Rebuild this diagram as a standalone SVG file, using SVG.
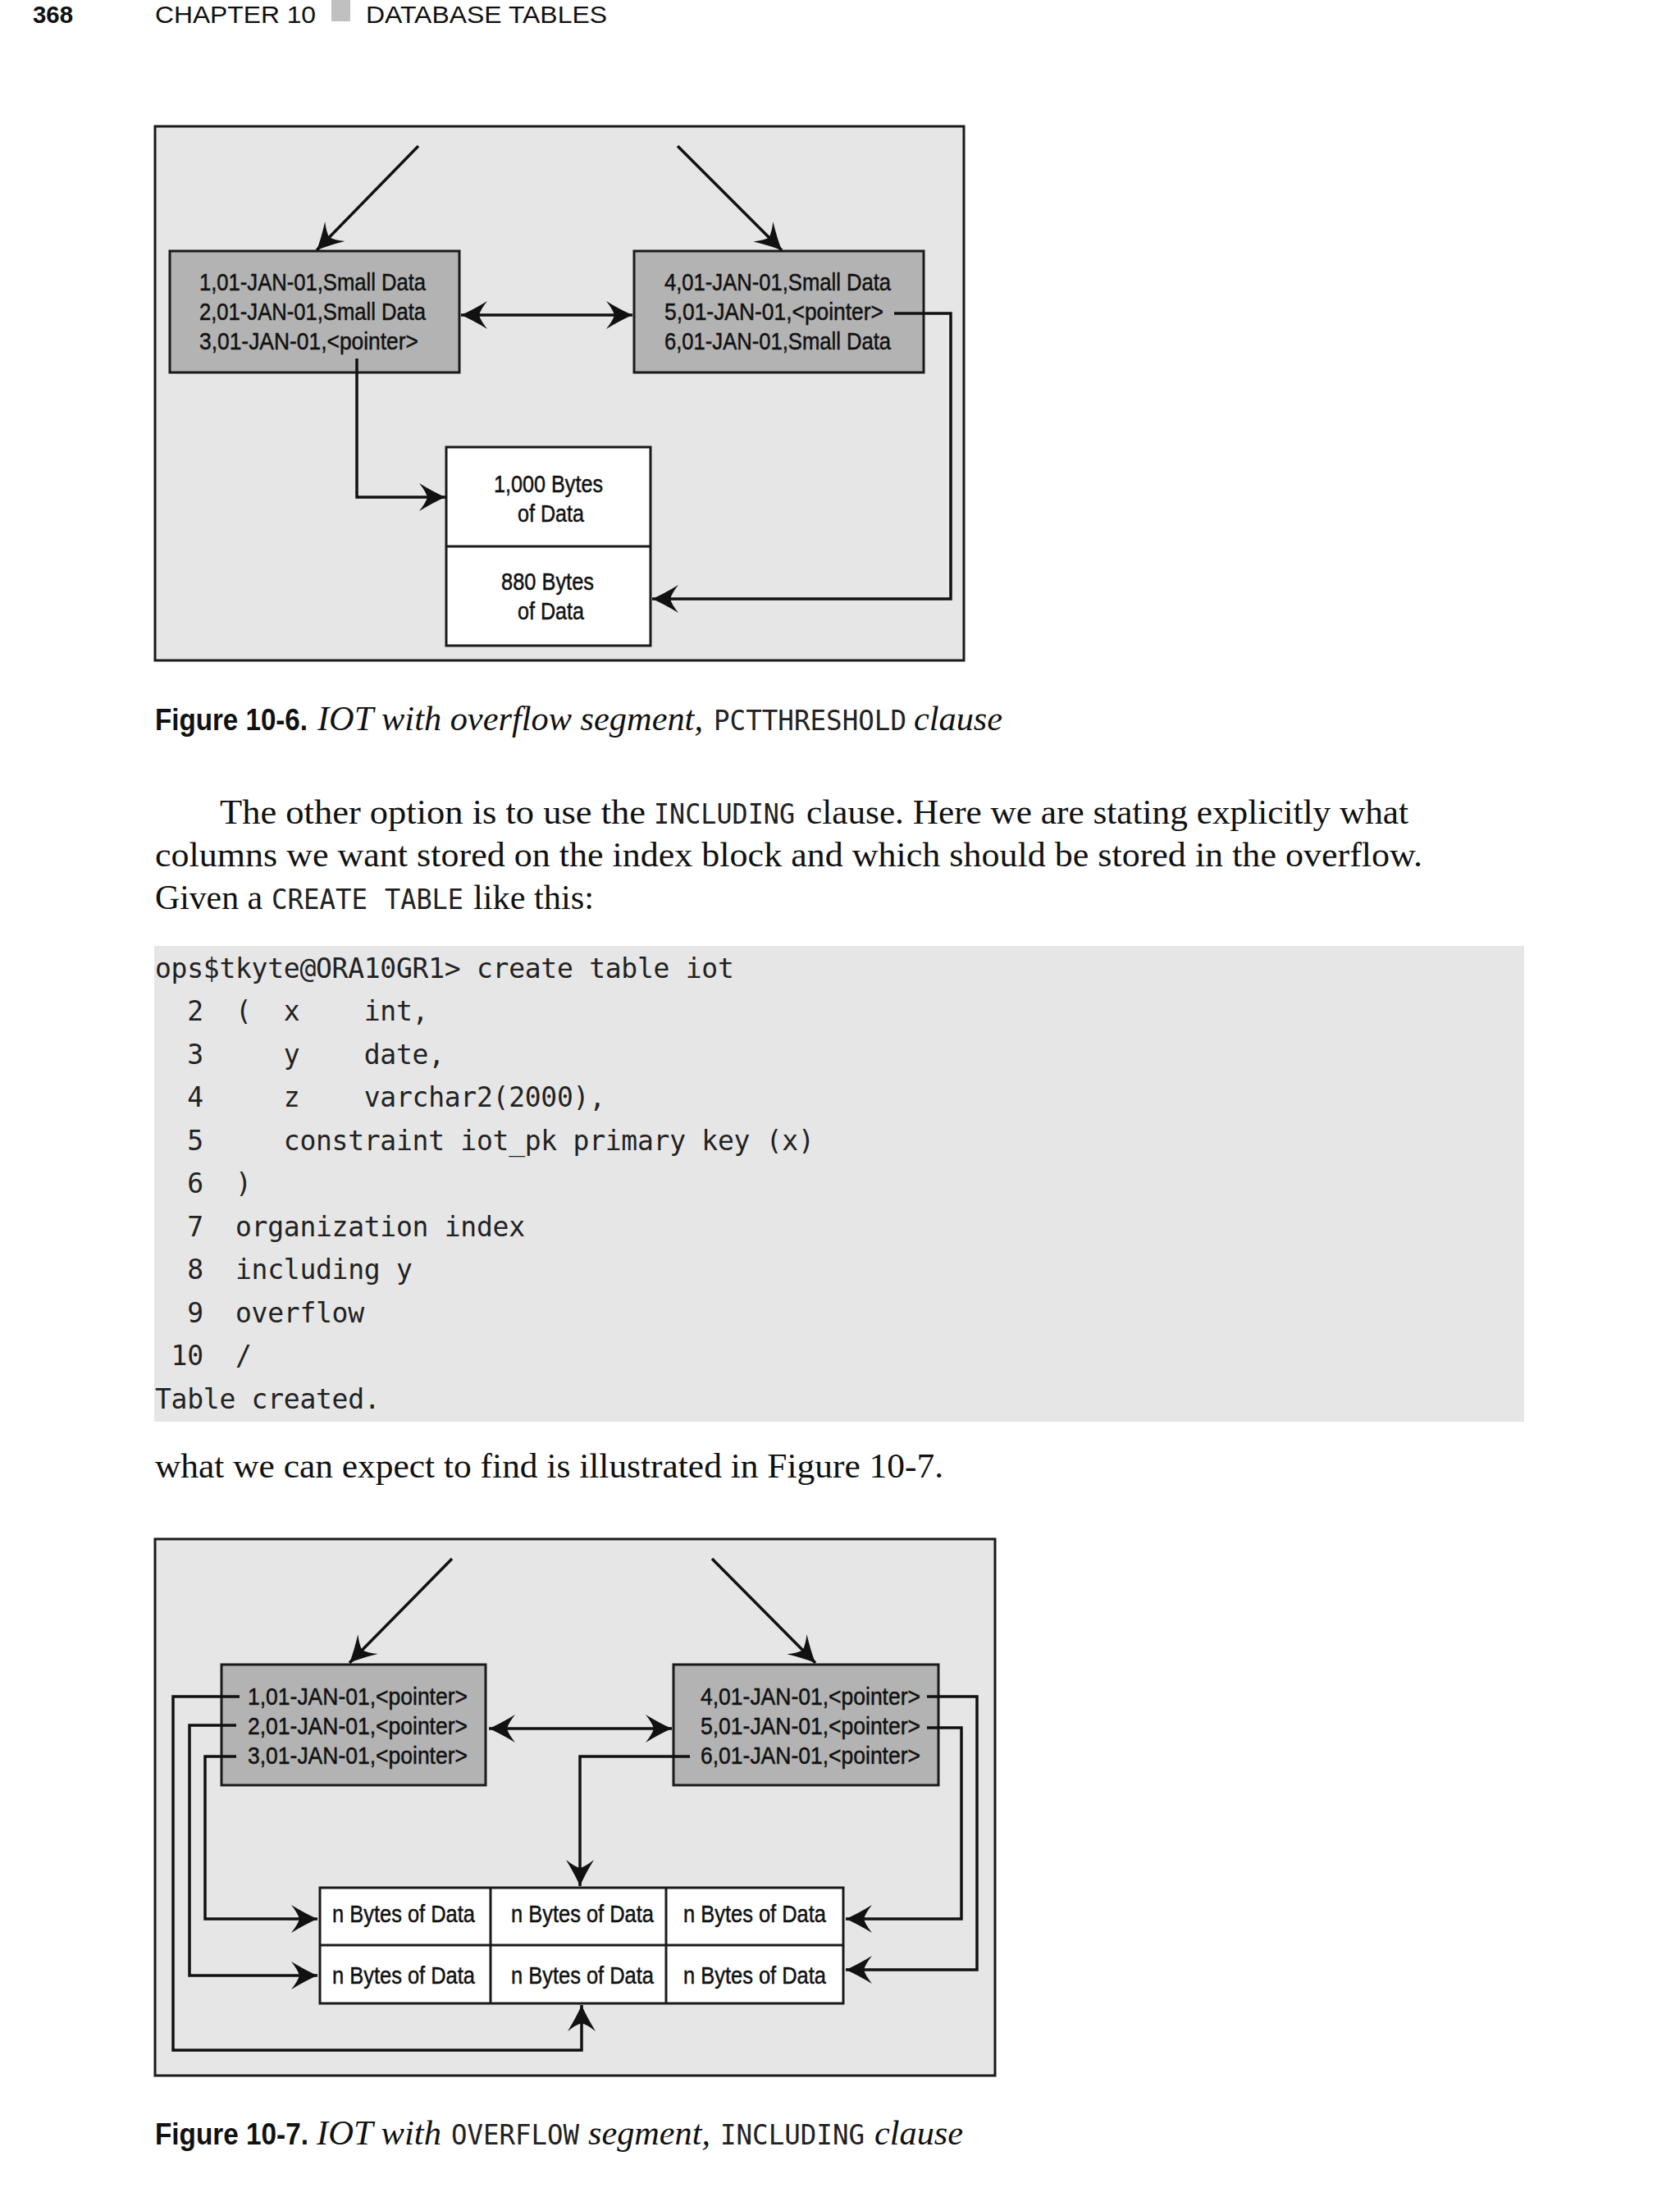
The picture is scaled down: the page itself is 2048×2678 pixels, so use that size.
<svg xmlns="http://www.w3.org/2000/svg" width="2048" height="2678" viewBox="0 0 2048 2678">
<style>
.hdr{font-family:"Liberation Sans",Arial,sans-serif;font-size:30px;fill:#111}
.hb{font-weight:bold}
.ft{font-family:"Liberation Sans",Arial,sans-serif;font-size:30px;fill:#111;stroke:#111;stroke-width:0.5}
.body{font-family:"Liberation Serif","Times New Roman",serif;font-size:42px;fill:#111}
.it{font-family:"Liberation Serif","Times New Roman",serif;font-size:42px;font-style:italic;fill:#111}
.mono{font-family:"DejaVu Sans Mono","Liberation Mono",monospace;font-size:33px;fill:#222}
.code{font-family:"DejaVu Sans Mono","Liberation Mono",monospace;font-size:33px;fill:#222;letter-spacing:-0.27px}
.capb{font-family:"Liberation Sans",Arial,sans-serif;font-size:37px;font-weight:bold;fill:#111}
.frame{fill:#e6e6e6;stroke:#1a1a1a;stroke-width:3}
.gbox{fill:#b3b3b3;stroke:#1a1a1a;stroke-width:3}
.wbox{fill:#ffffff;stroke:#1a1a1a;stroke-width:3}
.cn{fill:none;stroke:#111;stroke-width:3.5;stroke-linejoin:miter}
.ar{marker-end:url(#ah)}
.dar{marker-start:url(#ah);marker-end:url(#ah)}
</style>
<defs>
<marker id="ah" markerUnits="userSpaceOnUse" markerWidth="40" markerHeight="40" viewBox="-36 -20 40 40" refX="0" refY="0" orient="auto-start-reverse">
<path d="M0,0 Q-14,-6 -32,-17 Q-24,-7 -22,0 Q-24,7 -32,17 Q-14,6 0,0 Z" fill="#111"/>
</marker>
</defs>
<rect x="0" y="0" width="2048" height="2678" fill="#ffffff"/>

<g id="header">
<text class="hdr hb" x="40" y="28" textLength="49" lengthAdjust="spacingAndGlyphs">368</text>
<text class="hdr" x="189" y="28" textLength="196" lengthAdjust="spacingAndGlyphs">CHAPTER 10</text>
<rect x="404" y="0" width="23" height="26" fill="#c0c0c0"/>
<text class="hdr" x="446" y="28" textLength="294" lengthAdjust="spacingAndGlyphs">DATABASE TABLES</text>
</g>

<!-- Figure 10-6 -->
<g id="fig6-frame"><rect class="frame" x="189" y="154" width="986" height="651"/></g>
<g id="fig6-left-block">
<rect class="gbox" x="207" y="306" width="353" height="148"/>
<text class="ft" x="243" y="354" textLength="276" lengthAdjust="spacingAndGlyphs">1,01-JAN-01,Small Data</text>
<text class="ft" x="243" y="390" textLength="276" lengthAdjust="spacingAndGlyphs">2,01-JAN-01,Small Data</text>
<text class="ft" x="243" y="426" textLength="267" lengthAdjust="spacingAndGlyphs">3,01-JAN-01,&lt;pointer&gt;</text>
</g>
<g id="fig6-right-block">
<rect class="gbox" x="773" y="306" width="353" height="148"/>
<text class="ft" x="810" y="354" textLength="276" lengthAdjust="spacingAndGlyphs">4,01-JAN-01,Small Data</text>
<text class="ft" x="810" y="390" textLength="267" lengthAdjust="spacingAndGlyphs">5,01-JAN-01,&lt;pointer&gt;</text>
<text class="ft" x="810" y="426" textLength="276" lengthAdjust="spacingAndGlyphs">6,01-JAN-01,Small Data</text>
</g>
<g id="fig6-overflow">
<rect class="wbox" x="544" y="545" width="249" height="242"/>
<line x1="544" y1="666" x2="793" y2="666" stroke="#1a1a1a" stroke-width="3"/>
<text class="ft" x="602" y="600" textLength="133" lengthAdjust="spacingAndGlyphs">1,000 Bytes</text>
<text class="ft" x="631" y="636" textLength="81" lengthAdjust="spacingAndGlyphs">of Data</text>
<text class="ft" x="611" y="719" textLength="113" lengthAdjust="spacingAndGlyphs">880 Bytes</text>
<text class="ft" x="631" y="755" textLength="81" lengthAdjust="spacingAndGlyphs">of Data</text>
</g>
<g id="fig6-connectors">
<line class="cn ar" x1="510" y1="178" x2="386" y2="305"/>
<line class="cn ar" x1="826" y1="178" x2="953" y2="305"/>
<line class="cn dar" x1="562" y1="384" x2="771" y2="384"/>
<polyline class="cn ar" points="435,437 435,606 543,606"/>
<polyline class="cn ar" points="1090,382 1159,382 1159,730 795,730"/>
</g>

<g id="caption6">
<text class="capb" x="189" y="890" textLength="186" lengthAdjust="spacingAndGlyphs">Figure 10-6.</text>
<text class="it" x="387" y="890" textLength="470" lengthAdjust="spacingAndGlyphs">IOT with overflow segment,</text>
<text class="mono" x="870" y="890" textLength="235" lengthAdjust="spacingAndGlyphs">PCTTHRESHOLD</text>
<text class="it" x="1114" y="890" textLength="108" lengthAdjust="spacingAndGlyphs">clause</text>
</g>

<g id="paragraph">
<text class="body" x="268" y="1004" textLength="519" lengthAdjust="spacingAndGlyphs">The other option is to use the</text>
<text class="mono" x="797" y="1004" textLength="172" lengthAdjust="spacingAndGlyphs">INCLUDING</text>
<text class="body" x="983" y="1004" textLength="734" lengthAdjust="spacingAndGlyphs">clause. Here we are stating explicitly what</text>
<text class="body" x="189" y="1056" textLength="1545" lengthAdjust="spacingAndGlyphs">columns we want stored on the index block and which should be stored in the overflow.</text>
<text class="body" x="189" y="1108" textLength="131" lengthAdjust="spacingAndGlyphs">Given a</text>
<text class="mono" x="331" y="1108" textLength="117" lengthAdjust="spacingAndGlyphs">CREATE</text>
<text class="mono" x="469" y="1108" textLength="96" lengthAdjust="spacingAndGlyphs">TABLE</text>
<text class="body" x="577" y="1108" textLength="147" lengthAdjust="spacingAndGlyphs">like this:</text>
</g>

<g id="code">
<rect x="188" y="1153" width="1670" height="580" fill="#e6e6e6"/>
<text class="code" xml:space="preserve" x="189" y="1192">ops$tkyte@ORA10GR1&gt; create table iot</text>
<text class="code" xml:space="preserve" x="189" y="1244">  2  (  x    int,</text>
<text class="code" xml:space="preserve" x="189" y="1297">  3     y    date,</text>
<text class="code" xml:space="preserve" x="189" y="1349">  4     z    varchar2(2000),</text>
<text class="code" xml:space="preserve" x="189" y="1402">  5     constraint iot_pk primary key (x)</text>
<text class="code" xml:space="preserve" x="189" y="1454">  6  )</text>
<text class="code" xml:space="preserve" x="189" y="1507">  7  organization index</text>
<text class="code" xml:space="preserve" x="189" y="1559">  8  including y</text>
<text class="code" xml:space="preserve" x="189" y="1612">  9  overflow</text>
<text class="code" xml:space="preserve" x="189" y="1664"> 10  /</text>
<text class="code" xml:space="preserve" x="189" y="1717">Table created.</text>
</g>

<g id="para2">
<text class="body" x="189" y="1801" textLength="961" lengthAdjust="spacingAndGlyphs">what we can expect to find is illustrated in Figure 10-7.</text>
</g>

<!-- Figure 10-7 -->
<g id="fig7-frame"><rect class="frame" x="189" y="1876" width="1024" height="654"/></g>
<g id="fig7-left-block">
<rect class="gbox" x="270" y="2029" width="322" height="147"/>
<text class="ft" x="302" y="2078" textLength="268" lengthAdjust="spacingAndGlyphs">1,01-JAN-01,&lt;pointer&gt;</text>
<text class="ft" x="302" y="2114" textLength="268" lengthAdjust="spacingAndGlyphs">2,01-JAN-01,&lt;pointer&gt;</text>
<text class="ft" x="302" y="2150" textLength="268" lengthAdjust="spacingAndGlyphs">3,01-JAN-01,&lt;pointer&gt;</text>
</g>
<g id="fig7-right-block">
<rect class="gbox" x="821" y="2029" width="323" height="147"/>
<text class="ft" x="854" y="2078" textLength="268" lengthAdjust="spacingAndGlyphs">4,01-JAN-01,&lt;pointer&gt;</text>
<text class="ft" x="854" y="2114" textLength="268" lengthAdjust="spacingAndGlyphs">5,01-JAN-01,&lt;pointer&gt;</text>
<text class="ft" x="854" y="2150" textLength="268" lengthAdjust="spacingAndGlyphs">6,01-JAN-01,&lt;pointer&gt;</text>
</g>
<g id="fig7-overflow-grid">
<rect class="wbox" x="390" y="2301" width="638" height="141"/>
<line x1="390" y1="2371" x2="1028" y2="2371" stroke="#1a1a1a" stroke-width="3"/>
<line x1="598" y1="2301" x2="598" y2="2442" stroke="#1a1a1a" stroke-width="3"/>
<line x1="812" y1="2301" x2="812" y2="2442" stroke="#1a1a1a" stroke-width="3"/>
<text class="ft" x="405" y="2343" textLength="174" lengthAdjust="spacingAndGlyphs">n Bytes of Data</text>
<text class="ft" x="623" y="2343" textLength="174" lengthAdjust="spacingAndGlyphs">n Bytes of Data</text>
<text class="ft" x="833" y="2343" textLength="174" lengthAdjust="spacingAndGlyphs">n Bytes of Data</text>
<text class="ft" x="405" y="2418" textLength="174" lengthAdjust="spacingAndGlyphs">n Bytes of Data</text>
<text class="ft" x="623" y="2418" textLength="174" lengthAdjust="spacingAndGlyphs">n Bytes of Data</text>
<text class="ft" x="833" y="2418" textLength="174" lengthAdjust="spacingAndGlyphs">n Bytes of Data</text>
</g>
<g id="fig7-connectors">
<line class="cn ar" x1="551" y1="1900" x2="426" y2="2027"/>
<line class="cn ar" x1="868" y1="1900" x2="994" y2="2027"/>
<line class="cn dar" x1="596" y1="2107" x2="819" y2="2107"/>
<polyline class="cn ar" points="292,2068 211,2068 211,2499 709,2499 709,2444"/>
<polyline class="cn ar" points="288,2103 231,2103 231,2408 387,2408"/>
<polyline class="cn ar" points="288,2141 250,2141 250,2339 387,2339"/>
<polyline class="cn ar" points="1130,2068 1191,2068 1191,2401 1031,2401"/>
<polyline class="cn ar" points="1130,2106 1172,2106 1172,2339 1031,2339"/>
<polyline class="cn ar" points="841,2141 707,2141 707,2299"/>
</g>

<g id="caption7">
<text class="capb" x="189" y="2614" textLength="187" lengthAdjust="spacingAndGlyphs">Figure 10-7.</text>
<text class="it" x="386" y="2614" textLength="152" lengthAdjust="spacingAndGlyphs">IOT with</text>
<text class="mono" x="550" y="2614" textLength="156" lengthAdjust="spacingAndGlyphs">OVERFLOW</text>
<text class="it" x="717" y="2614" textLength="149" lengthAdjust="spacingAndGlyphs">segment,</text>
<text class="mono" x="878" y="2614" textLength="176" lengthAdjust="spacingAndGlyphs">INCLUDING</text>
<text class="it" x="1066" y="2614" textLength="108" lengthAdjust="spacingAndGlyphs">clause</text>
</g>
</svg>
